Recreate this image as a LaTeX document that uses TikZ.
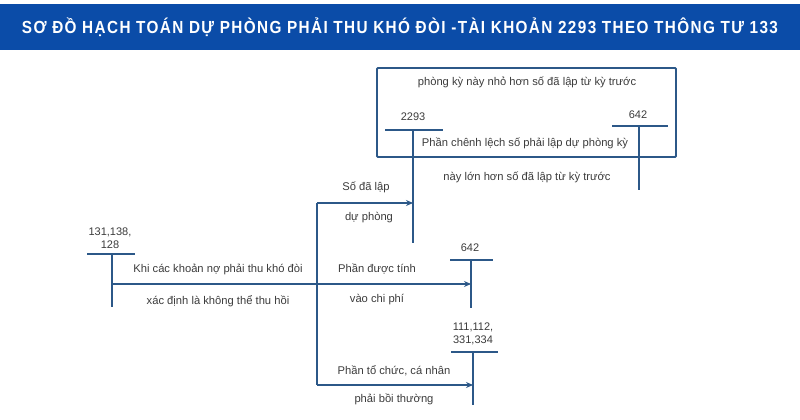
\documentclass[tikz,border=0pt]{standalone}
\usepackage{fontspec}
\setmainfont{Liberation Sans}
\usepackage{tikz}
\usetikzlibrary{arrows.meta}
\usepackage{xcolor}
\definecolor{ColTitle}{RGB}{11,76,168}
\definecolor{ColLine}{RGB}{44,88,136}
\definecolor{ColText}{RGB}{60,60,60}
\tikzstyle{TitleText}=[text=white,font=\bfseries\fontsize{17.5}{17.5}\selectfont\addfontfeature{LetterSpace=9},inner sep=0pt]
\tikzstyle{LabelText}=[text=ColText,font=\fontsize{11.2}{13}\selectfont,inner sep=0pt]
\tikzstyle{AccText}=[text=ColText,font=\fontsize{11}{13.5}\selectfont,inner sep=0pt,align=center]
\tikzstyle{AccLine}=[ColLine,line width=2.6pt]
\tikzstyle{FlowLine}=[ColLine,line width=1.9pt,-{Stealth[length=7pt,width=6pt]}]
\tikzstyle{PlainLine}=[ColLine,line width=1.9pt]

\begin{document}
\begin{tikzpicture}[x=1pt,y=-1pt]
        \useasboundingbox(0,0)rectangle(800,420);
        \fill[white](0,0)rectangle(800,420);
        % title bar
        \fill[ColTitle](0,4)rectangle(800,50);
        \node[TitleText](title)at(400,27.5){\resizebox{756pt}{\height}{SƠ ĐỒ HẠCH TOÁN DỰ PHÒNG PHẢI THU KHÓ ĐÒI -TÀI KHOẢN 2293 THEO THÔNG TƯ 133}};
        % frame
        \draw[PlainLine,rounded corners=1pt](377,68)rectangle(676,157);
        % accounts
        \node[AccText](acc2293)at(413,117){2293};
        \coordinate(b2293l)at(385,130);
        \coordinate(b2293r)at(443,130);
        \coordinate(b2293t)at(413,130);
        \coordinate(b2293b)at(413,243);
        \node[AccText](acc642a)at(638,115){642};
        \coordinate(b642al)at(612,126);
        \coordinate(b642ar)at(668,126);
        \coordinate(b642at)at(639,126);
        \coordinate(b642ab)at(639,190);
        \node[AccText](acc131)at(110,238){131,138,\\128};
        \coordinate(b131l)at(87,254);
        \coordinate(b131r)at(135,254);
        \coordinate(b131t)at(112,254);
        \coordinate(b131b)at(112,307);
        \node[AccText](acc642b)at(470,248){642};
        \coordinate(b642bl)at(450,260);
        \coordinate(b642br)at(493,260);
        \coordinate(b642bt)at(471,260);
        \coordinate(b642bb)at(471,308);
        \node[AccText](acc111)at(473,334){111,112,\\331,334};
        \coordinate(b111l)at(451,352);
        \coordinate(b111r)at(498,352);
        \coordinate(b111t)at(473,352);
        \coordinate(b111b)at(473,405);
        \draw[AccLine](b2293l)--(b2293r);
        \draw[AccLine](b642al)--(b642ar);
        \draw[AccLine](b131l)--(b131r);
        \draw[AccLine](b642bl)--(b642br);
        \draw[AccLine](b111l)--(b111r);
        \draw[PlainLine](b2293t)--(b2293b);
        \draw[PlainLine](b642at)--(b642ab);
        \draw[PlainLine](b131t)--(b131b);
        \draw[PlainLine](b642bt)--(b642bb);
        \draw[PlainLine](b111t)--(b111b);
        % flows
        \coordinate(s131)at(112,284);
        \coordinate(e642b)at(471,284);
        \coordinate(split)at(317,284);
        \coordinate(up)at(317,203);
        \coordinate(e2293)at(413,203);
        \coordinate(down)at(317,385);
        \coordinate(e111)at(473,385);
        \draw[FlowLine](s131)--(e642b);
        \draw[PlainLine](up)--(down);
        \draw[FlowLine](up)--(e2293);
        \draw[FlowLine](down)--(e111);
        % labels
        \node[LabelText](t1)at(527,82){phòng kỳ này nhỏ hơn số đã lập từ kỳ trước};
        \node[LabelText](t2)at(525,143){Phần chênh lệch số phải lập dự phòng kỳ};
        \node[LabelText](t3)at(527,177){này lớn hơn số đã lập từ kỳ trước};
        \node[LabelText](t4)at(366,187){Số đã lập};
        \node[LabelText](t5)at(369,218){dự phòng};
        \node[LabelText](t6)at(218,269){Khi các khoản nợ phải thu khó đòi};
        \node[LabelText](t7)at(218,301){xác định là không thể thu hồi};
        \node[LabelText](t8)at(377,269){Phần được tính};
        \node[LabelText](t9)at(377,300){vào chi phí};
        \node[LabelText](t10)at(394,371){Phần tổ chức, cá nhân};
        \node[LabelText](t11)at(394,399){phải bồi thường};
    \end{tikzpicture}
\end{document}
